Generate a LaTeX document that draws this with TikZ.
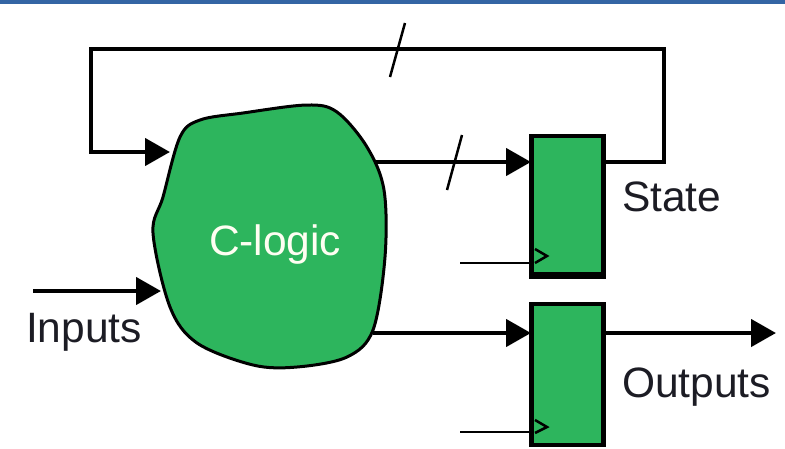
\documentclass[tikz,border=0pt]{standalone}
\usepackage{fontspec}
\setmainfont{Liberation Sans}
\usetikzlibrary{positioning,arrows.meta}
\definecolor{logicgreen}{HTML}{2DB55D}
\definecolor{barblue}{HTML}{3465A4}
\definecolor{labelgray}{HTML}{1C1C24}

\begin{document}
\begin{tikzpicture}
[x=1pt,y=-1pt,
 every node/.style={inner sep=0pt,outer sep=0pt},
 reg/.style={rectangle,draw=black,fill=logicgreen,line width=4.5pt,minimum width=72pt,minimum height=141pt,on grid},
 lbl/.style={anchor=base west,font=\fontsize{42.5}{42.5}\selectfont,text=labelgray},
 wire/.style={draw=black,line width=4.5pt},
 arrow/.style={wire,-{Triangle[length=25pt,width=27pt]}},
 clk/.style={draw=black,line width=2.5pt},
 tick/.style={draw=black,line width=2.5pt},
 blob/.style={draw=black,fill=logicgreen,line width=3pt}]
\useasboundingbox (0,0) rectangle (785,448);
\node[fill=barblue,minimum width=785pt,minimum height=3.5pt,anchor=north west] (bar) at (0,0) {};
% state feedback
\coordinate (stateOut) at (605,162);
\coordinate (fbA) at (664,162);
\coordinate (fbB) at (664,49);
\coordinate (fbC) at (91,49);
\coordinate (fbD) at (91,152);
\coordinate (fbIn) at (170,152);
\draw[arrow] (stateOut) -- (fbA) -- (fbB) -- (fbC) -- (fbD) -- (fbIn);
\coordinate (tickAa) at (405,23);
\coordinate (tickAb) at (390,77);
\draw[tick] (tickAa) -- (tickAb);
% logic
\draw[blob] plot[smooth cycle,tension=0.55] coordinates
 {(200,120) (243,113) (307,105) (337,112) (367,147) (384,190) (385,257) (373,330)
  (347,357) (297,367) (253,365) (197,343) (170,307) (153,233) (163,197) (180,137)};
\node[lbl,text=white!95!yellow] (logic) at (209,255) {C-logic};
% registers
\node[reg] (stateReg) at (567.5,206.5) {};
\node[reg] (outReg) [below=168pt of stateReg] {};
\fill[black] ([xshift=-2.25pt]stateReg.south west) rectangle ([xshift=2.25pt,yshift=5pt]stateReg.south east);
\coordinate (stateOutL) at (375,162);
\coordinate (stateIn) at (531,162);
\draw[arrow] (stateOutL) -- (stateIn);
\coordinate (tickBa) at (462,135);
\coordinate (tickBb) at (447,190);
\draw[tick] (tickBa) -- (tickBb);
\coordinate (outL) at (373,333);
\coordinate (outIn) at (531,333);
\draw[arrow] (outL) -- (outIn);
\coordinate (outOut) at (776,333);
\draw[arrow] (outReg.east |- outL) -- (outOut);
\coordinate (inStart) at (33,291);
\coordinate (inEnd) at (161,291);
\draw[arrow] (inStart) -- (inEnd);
% clocks
\coordinate (clkA) at (460,263);
\coordinate (clkB) at (460,432);
\draw[clk] (clkA) -- (clkA -| stateReg.west);
\draw[clk] (clkB) -- (clkB -| outReg.west);
\draw[clk] (535,249) -- (547,256) -- (535,263);
\draw[clk] (535,420) -- (547,427) -- (535,433);
% labels
\node[lbl] (inputs)  at (26,342)  {Inputs};
\node[lbl] (state)   at (622,211) {State};
\node[lbl] (outputs) at (622,397) {Outputs};
\end{tikzpicture}
\end{document}
